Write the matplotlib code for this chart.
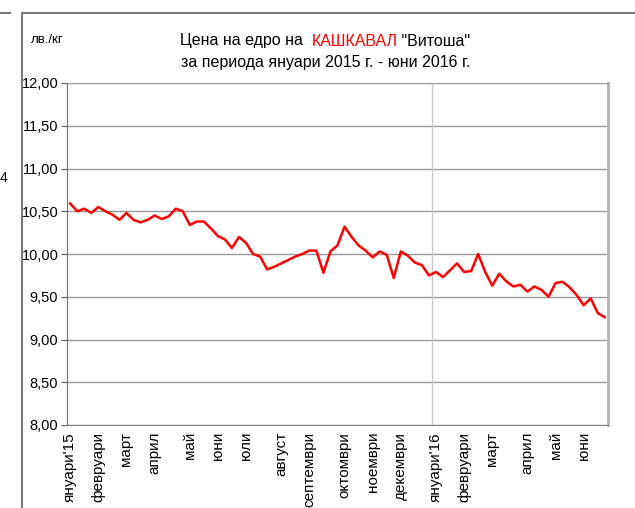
import matplotlib
matplotlib.use("Agg")
import matplotlib.pyplot as plt
from matplotlib.lines import Line2D
import numpy as np

plt.rcParams['font.family'] = ['Liberation Sans', 'DejaVu Sans']

# weekly wholesale price, lv/kg, Jan 2015 - Jun 2016
prices = [10.59, 10.50, 10.53, 10.48, 10.55, 10.50, 10.46, 10.40, 10.48, 10.40,
          10.37, 10.40, 10.45, 10.41, 10.44, 10.53, 10.50, 10.34, 10.38, 10.38,
          10.30, 10.21, 10.17, 10.07, 10.20, 10.13, 10.00, 9.97, 9.82, 9.85,
          9.89, 9.93, 9.97, 10.00, 10.04, 10.04, 9.78, 10.03, 10.10, 10.32,
          10.20, 10.10, 10.04, 9.96, 10.03, 9.99, 9.72, 10.03, 9.98, 9.90,
          9.87, 9.75, 9.79, 9.73, 9.81, 9.89, 9.79, 9.80, 10.00, 9.79,
          9.63, 9.77, 9.68, 9.62, 9.64, 9.56, 9.62, 9.58, 9.50, 9.66,
          9.675, 9.61, 9.52, 9.40, 9.48, 9.31, 9.26]

month_pos = [0, 4, 8, 12, 17, 21, 25, 30, 34, 39, 43, 47, 52, 56, 60, 65, 69, 73]
month_labels = ["януари'15", "февруари", "март", "април", "май", "юни", "юли",
                "август", "септември", "октомври", "ноември", "декември",
                "януари'16", "февруари", "март", "април", "май", "юни"]

y_ticks = [8.0, 8.5, 9.0, 9.5, 10.0, 10.5, 11.0, 11.5, 12.0]

W, H = 635, 508
fig = plt.figure(figsize=(W / 100, H / 100), dpi=100)
ax = fig.add_axes([66.7 / W, 1 - 425 / H, 541.6 / W, 342 / H])

x = np.arange(len(prices))
ax.plot(x, prices, color='#ff0000', lw=1.8, solid_joinstyle='round', zorder=3)

ax.set_xlim(-0.5, len(prices) - 0.5)
ax.set_ylim(8, 12)
ax.set_yticks(y_ticks)
ax.set_yticklabels([f"{v:.2f}".replace('.', ',') for v in y_ticks], fontsize=10.5)
ax.yaxis.grid(True, color='#9a9a9a', lw=1.0)
ax.axvline(51.5, color='#c8c8c8', lw=1.0, zorder=1)
ax.set_axisbelow(True)

ax.set_xticks(month_pos)
ax.set_xticklabels(month_labels, rotation=90, fontsize=11, va='top')
ax.tick_params(axis='x', length=0, pad=5)
ax.tick_params(axis='y', length=4, color='#606060', pad=2)

ax.spines['left'].set_color('#707070')
ax.spines['bottom'].set_color('#808080')
ax.spines['top'].set_color('#9a9a9a')
ax.spines['right'].set_color('#b4b4b4')
ax.spines['right'].set_linewidth(2.0)

# title, first line built from three pieces so the product name can be red
renderer = fig.canvas.get_renderer()
parts = [("Цена на едро на  ", 'black'), ("КАШКАВАЛ", '#ff0000'), (' "Витоша"', 'black')]
texts = [fig.text(0, 1 - 41 / H, s, ha='left', va='center', fontsize=11.5, color=c)
         for s, c in parts]
widths = [t.get_window_extent(renderer).width for t in texts]
x0 = 325 - sum(widths) / 2
for t, w in zip(texts, widths):
    t.set_x(x0 / W)
    x0 += w
fig.text(326 / W, 1 - 62 / H, "за периода януари 2015 г. - юни 2016 г.", ha='center',
         va='center', fontsize=11.5)
fig.text(31 / W, 1 - 40 / H, "лв./кг", ha='left', va='center', fontsize=9.5)
fig.text(0, 1 - 178 / H, "4", ha='left', va='center', fontsize=10)

# outer frames
fig.add_artist(Line2D([22 / W, 22 / W, 1], [0, 1 - 12.5 / H, 1 - 12.5 / H],
                      transform=fig.transFigure, color='#7a7a7a', lw=1.5))
fig.add_artist(Line2D([0, 10 / W], [1 - 12.5 / H, 1 - 12.5 / H],
                      transform=fig.transFigure, color='#7a7a7a', lw=1.5))

fig.savefig("out.png", dpi=100)
